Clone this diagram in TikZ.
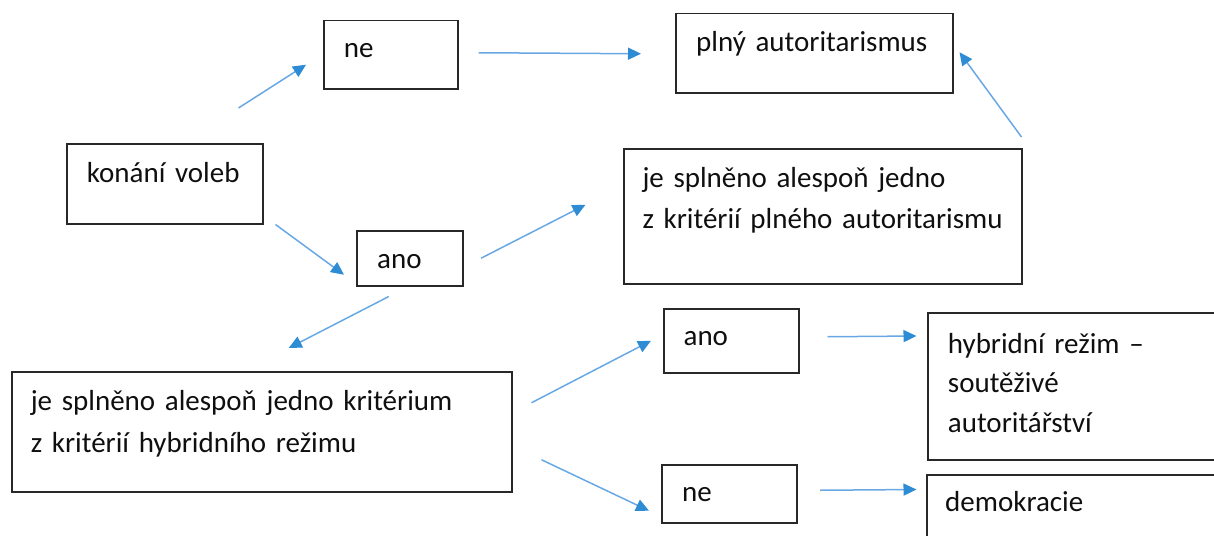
\documentclass[tikz,border=0pt]{standalone}
\usepackage{fontspec}
\setmainfont[WordSpace=0.85]{Carlito}
\usetikzlibrary{arrows.meta,calc}
\definecolor{arrline}{RGB}{105,168,228}
\definecolor{arrhead}{RGB}{45,140,212}
\definecolor{boxline}{RGB}{40,40,40}
\definecolor{txtcol}{RGB}{15,15,15}
\begin{document}
\begin{tikzpicture}[x=1pt,y=-1pt,
  boxnode/.style={draw=boxline,line width=1.5pt,rectangle,inner sep=0pt,anchor=north west},
  txt/.style={anchor=base west,inner sep=0pt,text width=#1,align=left,text=txtcol,
    font=\fontsize{29}{41.5}\selectfont},
  txt/.default=400pt,
  arr/.style={draw=arrline,line width=1.5pt,-{Triangle[length=13pt,width=12pt,color=arrhead]}}]
\useasboundingbox (0,0) rectangle (1214,535);
\clip (0,0) rectangle (1214,535);
% boxes
\node[boxnode,minimum width=196pt,minimum height=80pt] (konani) at (66,143) {};
\node[boxnode,minimum width=134pt,minimum height=68pt] (ne1) at (323,20) {};
\node[boxnode,minimum width=277pt,minimum height=79pt] (plny) at (675,13) {};
\node[boxnode,minimum width=106pt,minimum height=55pt] (ano1) at (356,230) {};
\node[boxnode,minimum width=398pt,minimum height=135pt] (je1) at (623,148) {};
\node[boxnode,minimum width=500pt,minimum height=120pt] (krit) at (11,371) {};
\node[boxnode,minimum width=135pt,minimum height=64pt] (ano2) at (663,308) {};
\node[boxnode,minimum width=320pt,minimum height=147pt] (hyb) at (927,312) {};
\node[boxnode,minimum width=135pt,minimum height=58pt] (ne2) at (661,464) {};
\node[boxnode,minimum width=320pt,minimum height=90pt] (demo) at (926,474) {};
% texts
\node[txt] (konani-t) at ($(konani.north west)+(20.7,39.7)$) {konání voleb};
\node[txt] (ne1-t) at ($(ne1.north west)+(20.6,38)$) {ne};
\node[txt] (plny-t) at ($(plny.north west)+(21,39)$) {plný autoritarismus};
\node[txt] (ano1-t) at ($(ano1.north west)+(21,38)$) {ano};
\node[txt] (je1-t) at ($(je1.north west)+(19.3,39)$) {je splněno alespoň jedno\\z kritérií plného autoritarismu};
\node[txt=480pt] (krit-t) at ($(krit.north west)+(19.6,39.7)$) {je splněno alespoň jedno kritérium\\z kritérií hybridního režimu};
\node[txt] (ano2-t) at ($(ano2.north west)+(20.4,37)$) {ano};
\node[txt,font=\fontsize{29}{39.5}\selectfont] (hyb-t) at ($(hyb.north west)+(20.7,41)$) {hybridní režim –\\soutěživé\\autoritářství};
\node[txt] (ne2-t) at ($(ne2.north west)+(21,37.7)$) {ne};
\node[txt] (demo-t) at ($(demo.north west)+(19,37.7)$) {demokracie};
% connectors
\draw[arr] ($(konani.north east)+(-25,-35)$) -- ($(ne1.west)+(-17,10)$);
\draw[arr] ($(konani.south east)+(12,0)$) -- ($(ano1.west)+(-12,16.5)$);
\draw[arr] ($(ne1.east)+(20,-2)$) -- ($(plny.west)+(-34,0.5)$);
\draw[arr] ($(ano1.east)+(17.5,0)$) -- ($(je1.west)+(-37.5,-11.5)$);
\draw[arr] ($(je1.north east)+(-1,-11)$) -- ($(plny.east)+(6,-1)$);
\draw[arr] ($(ano1.south)+(-21,10)$) -- ($(krit.north)+(27,-23)$);
\draw[arr] ($(krit.east)+(19,-29)$) -- ($(ano2.west)+(-12,0)$);
\draw[arr] ($(krit.east)+(29,28)$) -- ($(ne2.west)+(-12,17)$);
\draw[arr] ($(ano2.east)+(28,-4)$) -- ($(hyb.north west)+(-10.5,24)$);
\draw[arr] ($(ne2.east)+(22.5,-3.5)$) -- ($(demo.north west)+(-9.5,15.5)$);
\end{tikzpicture}
\end{document}
